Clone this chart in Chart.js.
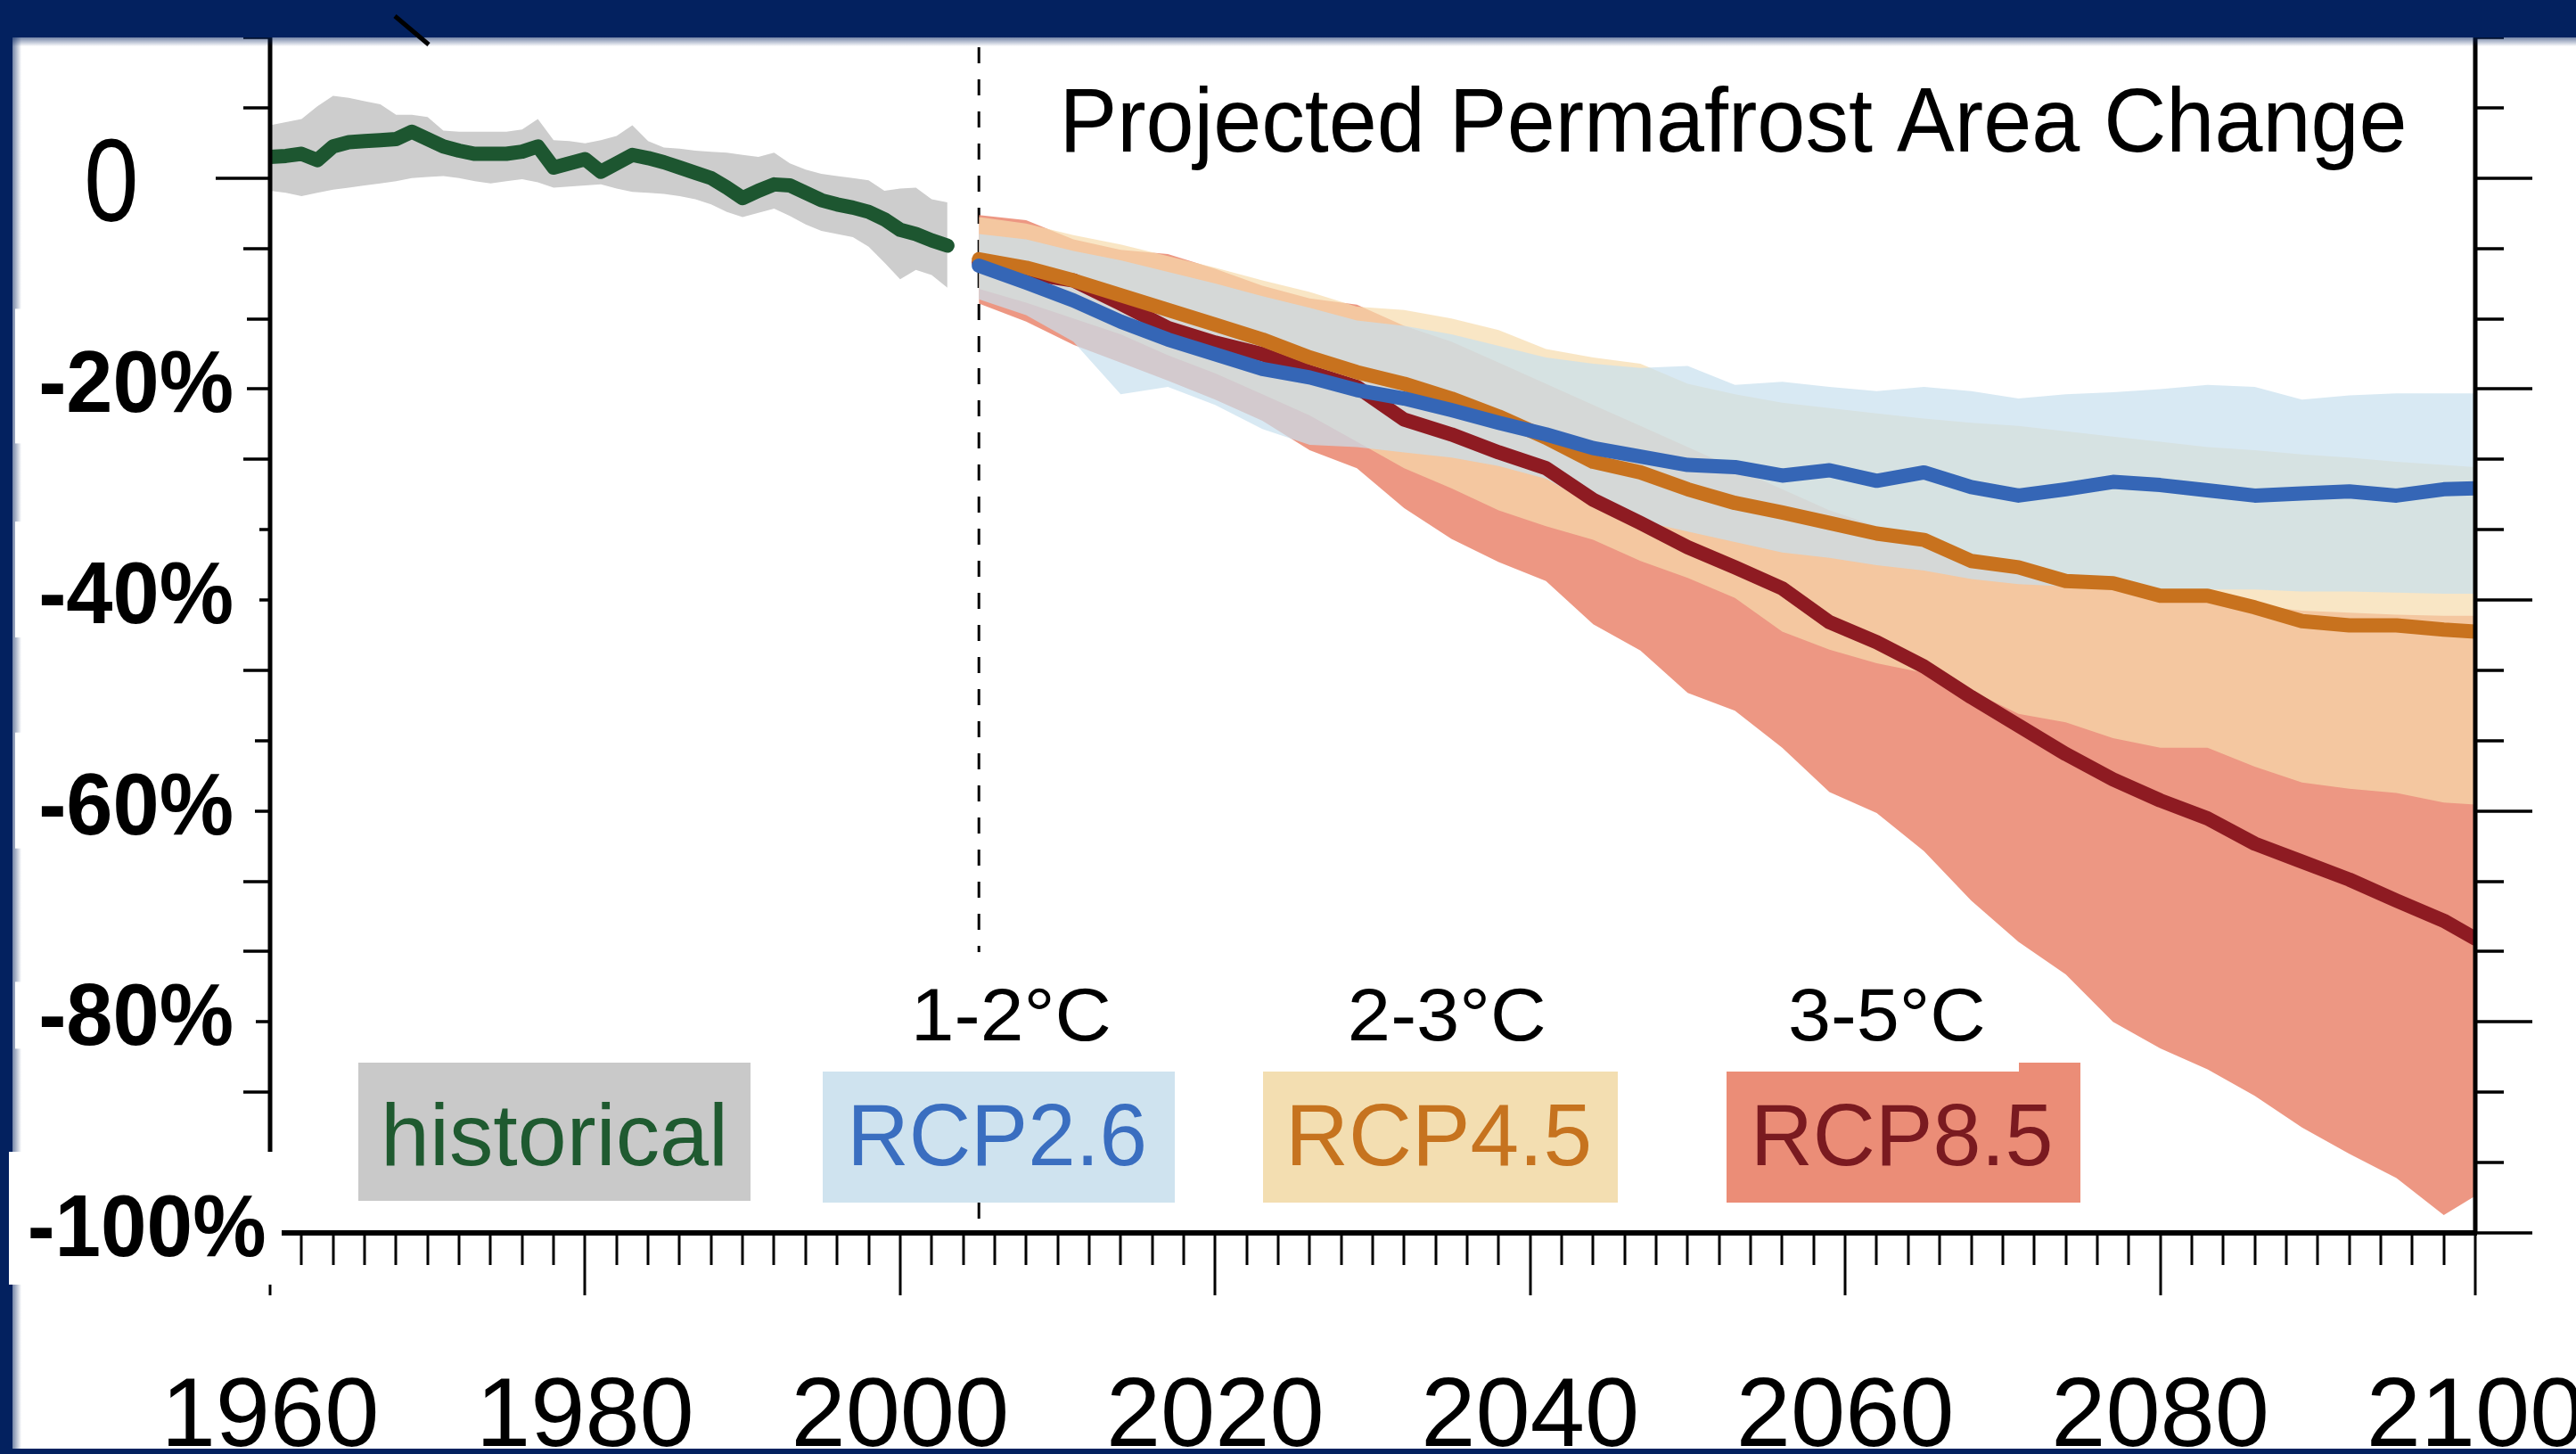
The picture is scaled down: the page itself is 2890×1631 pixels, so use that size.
<!DOCTYPE html>
<html>
<head>
<meta charset="utf-8">
<script src="https://cdn.jsdelivr.net/npm/chart.js@4.4.1/dist/chart.umd.min.js"></script>
<style>
html,body{margin:0;padding:0;background:#fff;overflow:hidden}
#wrap{width:2890px;height:1631px;position:relative}
</style>
</head>
<body>
<div id="wrap"><canvas id="c" width="2890" height="1631" style="width:2890px;height:1631px"></canvas></div>
<script>
// ---------------- DATA ----------------
const chartTitle = 'Projected Permafrost Area Change';
const histYears = [1960,1961,1962,1963,1964,1965,1966,1967,1968,1969,1970,1971,1972,1973,1974,1975,1976,1977,1978,1979,
  1980,1981,1982,1983,1984,1985,1986,1987,1988,1989,1990,1991,1992,1993,1994,1995,1996,1997,1998,1999,2000,2001,2002,2003];
const histMean  = [2.0,2.1,2.3,1.7,3.0,3.4,3.5,3.6,3.7,4.4, 3.7,3.0,2.6,2.3,2.3,2.3,2.5,3.0,1.0,1.4,
  1.8,0.6,1.4,2.2,1.9,1.5,1.0,0.5,0.0,-0.9, -1.9,-1.2,-0.6,-0.7,-1.4,-2.1,-2.5,-2.8,-3.2,-3.9, -4.9,-5.3,-5.9,-6.4];
const histUpper = [5.0,5.3,5.6,6.8,7.8,7.6,7.3,7.0,6.0,6.0, 5.8,4.5,4.4,4.4,4.4,4.4,4.6,5.6,3.6,3.5,
  3.3,3.6,4.0,5.0,3.5,2.9,2.8,2.6,2.5,2.4, 2.2,2.0,2.4,1.4,0.8,0.4,0.2,0.0,-0.2,-1.2, -1.0,-0.9,-2.0,-2.3];
const histLower = [-1.2,-1.4,-1.7,-1.4,-1.1,-0.9,-0.7,-0.5,-0.3,0.0, 0.1,0.2,0.0,-0.3,-0.5,-0.3,-0.1,-0.4,-0.9,-0.8,
  -0.7,-0.6,-1.0,-1.3,-1.4,-1.5,-1.7,-2.0,-2.5,-3.2, -3.7,-3.3,-2.9,-3.6,-4.4,-5.0,-5.3,-5.6,-6.5,-8.0, -9.6,-8.7,-9.2,-10.4];

const projYears = [2005,2008,2011,2014,2017,2020,2023,2026,2029,2032,2035,2038,2041,2044,2047,2050,2053,2056,2059,2062,
  2065,2068,2071,2074,2077,2080,2083,2086,2089,2092,2095,2098,2100];

const rcp26Mean  = [-8.3,-9.9,-11.6,-13.6,-15.3,-16.7,-18.1,-18.9,-20.1,-20.9,-22.0,-23.2,-24.3,-25.6,-26.4,-27.2,-27.4,-28.2,-27.7,-28.7,
  -27.9,-29.3,-30.1,-29.5,-28.8,-29.1,-29.6,-30.1,-29.9,-29.7,-30.1,-29.5,-29.4];
const rcp26Upper = [-5.3,-5.8,-6.9,-7.8,-8.9,-10.0,-11.2,-12.3,-13.5,-14.0,-14.8,-15.9,-17.0,-17.6,-18.0,-17.8,-19.6,-19.3,-19.8,-20.2,
  -19.8,-20.2,-20.9,-20.5,-20.3,-20.0,-19.6,-19.8,-21.0,-20.6,-20.4,-20.4,-20.4];
const rcp26Lower = [-11.5,-13.0,-15.5,-20.5,-19.8,-21.5,-23.8,-25.3,-25.5,-26.0,-26.5,-27.3,-28.5,-31.0,-32.5,-33.5,-34.5,-35.5,-36.0,-36.7,
  -37.2,-38.0,-38.5,-38.7,-38.8,-39.0,-39.0,-39.0,-39.2,-39.2,-39.3,-39.4,-39.4];

const rcp45Mean  = [-7.7,-8.5,-9.7,-11.1,-12.5,-13.9,-15.3,-17.0,-18.4,-19.5,-20.9,-22.6,-24.6,-26.9,-27.9,-29.5,-30.8,-31.7,-32.7,-33.7,
  -34.3,-36.3,-36.9,-38.2,-38.4,-39.6,-39.6,-40.7,-42.0,-42.4,-42.4,-42.8,-43.0];
const rcp45Upper = [-3.7,-4.3,-5.4,-6.3,-7.4,-8.5,-9.7,-10.8,-12.2,-12.5,-13.3,-14.4,-16.2,-17.0,-17.6,-19.5,-20.5,-21.3,-21.8,-22.3,
  -22.8,-23.2,-23.5,-24.0,-24.5,-25.0,-25.5,-25.8,-26.2,-26.5,-26.9,-27.2,-27.4];
const rcp45Lower = [-10.5,-11.8,-13.3,-14.8,-16.8,-18.5,-20.5,-22.5,-25.0,-27.5,-29.4,-31.5,-33.0,-34.3,-36.3,-37.9,-39.8,-43.0,-44.7,-46.0,
  -46.9,-48.6,-50.8,-51.6,-53.1,-54.0,-54.0,-55.8,-57.3,-57.9,-58.3,-59.2,-59.4];

const rcp85Mean  = [-8.0,-9.0,-9.7,-11.9,-14.2,-15.6,-16.7,-18.4,-19.8,-22.9,-24.3,-26.0,-27.5,-30.5,-32.7,-35.0,-36.9,-38.9,-42.1,-44.0,
  -46.3,-49.2,-51.9,-54.6,-57.0,-59.0,-60.7,-63.1,-64.8,-66.5,-68.5,-70.4,-72.1];
const rcp85Upper = [-3.5,-4.0,-5.8,-6.8,-7.2,-8.6,-10.2,-11.4,-12.0,-14.0,-15.5,-17.5,-19.5,-21.5,-23.5,-25.5,-27.5,-29.5,-31.5,-33.0,
  -34.5,-36.0,-37.0,-38.0,-39.0,-39.5,-40.0,-40.5,-41.0,-41.2,-41.4,-41.5,-41.5];
const rcp85Lower = [-11.9,-13.6,-15.8,-17.5,-19.2,-21.0,-23.0,-25.8,-27.5,-31.3,-34.2,-36.4,-38.2,-42.3,-44.8,-48.8,-50.5,-54.0,-58.2,-60.2,
  -63.8,-68.5,-72.4,-75.5,-80.0,-82.5,-84.5,-87.0,-90.0,-92.5,-94.8,-98.3,-96.5];

const dividerYear = 2005;
const yLabelValues = [0, -20, -40, -60, -80, -100];
const yLabelTexts  = ['0', '-20%', '-40%', '-60%', '-80%', '-100%'];
const legendLabels = ['historical', 'RCP2.6', 'RCP4.5', 'RCP8.5'];
const warmingLabels = ['1-2°C', '2-3°C', '3-5°C'];

// ---------------- STYLE ----------------
const COL = {
  histLine: '#1d5630', histBand: '#cdcdcd',
  r26Line: '#3566b6', r26Band: 'rgba(200,224,238,0.70)',
  r45Line: '#c8721e', r45Band: 'rgba(247,219,172,0.70)',
  r85Line: '#8e1b22', r85Band: 'rgba(234,137,114,0.88)',
  frame: '#03215f'
};

const pts = (xs, ys) => xs.map((x, i) => ({x: x, y: ys[i]}));

function bandSets(name, years, upper, lower, color, order) {
  return [
    {label: name + ' upper', data: pts(years, upper), borderWidth: 0, borderColor: 'transparent',
     pointRadius: 0, backgroundColor: color, fill: '+1', order: order},
    {label: name + ' lower', data: pts(years, lower), borderWidth: 0, borderColor: 'transparent',
     pointRadius: 0, fill: false, order: order}
  ];
}
function lineSet(name, years, vals, color, order) {
  return {label: name, data: pts(years, vals), borderColor: color, borderWidth: 16, pointRadius: 0,
    fill: false, borderCapStyle: 'round', borderJoinStyle: 'round', order: order};
}

const datasets = [
  ...bandSets('historical', histYears, histUpper, histLower, COL.histBand, 7),
  ...bandSets('RCP8.5', projYears, rcp85Upper, rcp85Lower, COL.r85Band, 6),
  ...bandSets('RCP4.5', projYears, rcp45Upper, rcp45Lower, COL.r45Band, 5),
  ...bandSets('RCP2.6', projYears, rcp26Upper, rcp26Lower, COL.r26Band, 4),
  lineSet('RCP8.5 mean', projYears, rcp85Mean, COL.r85Line, 3),
  lineSet('RCP4.5 mean', projYears, rcp45Mean, COL.r45Line, 2),
  lineSet('RCP2.6 mean', projYears, rcp26Mean, COL.r26Line, 1),
  lineSet('historical mean', histYears, histMean, COL.histLine, 1)
];

// text helper: fit ink width, centre or left align
function drawText(ctx, text, x, baseline, font, color, opts) {
  opts = opts || {};
  ctx.save();
  ctx.font = font; ctx.fillStyle = color;
  ctx.textAlign = 'left'; ctx.textBaseline = 'alphabetic';
  const m = ctx.measureText(text);
  const ink = m.actualBoundingBoxLeft + m.actualBoundingBoxRight;
  const s = opts.width ? opts.width / ink : (opts.sx || 1);
  const w = ink * s;
  const left = opts.align === 'left' ? x : x - w / 2;
  ctx.translate(left + m.actualBoundingBoxLeft * s, baseline);
  ctx.scale(s, 1);
  ctx.fillText(text, 0, 0);
  ctx.restore();
}

const decor = {
  id: 'decor',
  beforeDraw(chart) {
    const ctx = chart.ctx;
    ctx.save(); ctx.fillStyle = '#fff'; ctx.fillRect(0, 0, chart.width, chart.height); ctx.restore();
  },
  beforeDatasetsDraw(chart) {
    const {ctx, chartArea: ca, scales: {x}} = chart;
    const px = x.getPixelForValue(dividerYear);
    ctx.save();
    ctx.strokeStyle = '#000'; ctx.lineWidth = 3; ctx.setLineDash([18, 18]);
    ctx.beginPath(); ctx.moveTo(px, ca.top + 11); ctx.lineTo(px, ca.bottom); ctx.stroke();
    ctx.restore();
  },
  afterDraw(chart) {
    const {ctx, chartArea: ca, scales: {x, y}} = chart;
    const W = chart.width, H = chart.height;
    ctx.save();
    // ticks on y (left & right), every 20/3 %
    ctx.strokeStyle = '#000'; ctx.lineCap = 'butt';
    ctx.lineWidth = 3.5;
    for (let k = 0; k <= 17; k++) {
      const v = 40 / 3 - k * 20 / 3;
      const py = Math.round(y.getPixelForValue(v));
      const major = (k % 3 === 2);
      ctx.beginPath();
      ctx.moveTo(ca.left, py); ctx.lineTo(ca.left - (major ? 61 : 30), py);
      ctx.moveTo(ca.right, py); ctx.lineTo(ca.right + (major ? 64 : 32), py);
      ctx.stroke();
    }
    // ticks on x, every 2 years, long every 20
    ctx.lineWidth = 3;
    for (let yr = 1960; yr <= 2100; yr += 2) {
      const px = Math.round(x.getPixelForValue(yr));
      const major = (yr % 20 === 0);
      ctx.beginPath(); ctx.moveTo(px, ca.bottom); ctx.lineTo(px, ca.bottom + (major ? 70 : 36)); ctx.stroke();
    }
    // axis lines
    ctx.lineWidth = 5;
    ctx.beginPath();
    ctx.moveTo(ca.left, ca.top); ctx.lineTo(ca.left, ca.bottom);
    ctx.moveTo(ca.right, ca.top); ctx.lineTo(ca.right, ca.bottom);
    ctx.stroke();
    ctx.lineWidth = 6;
    ctx.beginPath(); ctx.moveTo(ca.left, ca.bottom); ctx.lineTo(ca.right + 2, ca.bottom); ctx.stroke();

    // title
    drawText(ctx, chartTitle, 1196, 170, '102px "Liberation Sans", Arial, sans-serif', '#000', {align: 'left', width: 1501});

    // legend boxes
    const boxes = [
      {x0: 402, x1: 842, y0: 1192, y1: 1347, fill: '#c9c9c9', text: '#1f5a30', w: 378},
      {x0: 923, x1: 1318, y0: 1202, y1: 1349, fill: '#cfe3ef', text: '#3a6ec0', w: 325},
      {x0: 1417, x1: 1815, y0: 1202, y1: 1349, fill: '#f3deb1', text: '#c6731f', w: 332},
      {x0: 1937, x1: 2334, y0: 1202, y1: 1349, fill: '#eb8d77', text: '#7a1a20', w: 328}
    ];
    // white backdrop behind the first warming label (hides dashed line)
    ctx.fillStyle = '#fff';
    ctx.fillRect(1005, 1068, 263, 133);
    boxes.forEach((b, i) => {
      ctx.fillStyle = b.fill;
      ctx.fillRect(b.x0, b.y0, b.x1 - b.x0, b.y1 - b.y0);
      if (i === 3) ctx.fillRect(2265, 1192, b.x1 - 2265, 12);
      drawText(ctx, legendLabels[i], (b.x0 + b.x1) / 2, 1307, '99px "Liberation Sans", Arial, sans-serif', b.text, {width: b.w});
    });
    // warming labels
    const wx = [1136, 1624, 2117];
    warmingLabels.forEach((t, i) => {
      drawText(ctx, t, wx[i], 1167, '84px "Liberation Sans", Arial, sans-serif', '#000', {width: 216});
    });

    // frame of the slide
    ctx.fillStyle = COL.frame;
    ctx.fillRect(0, 0, W, 42);
    let g = ctx.createLinearGradient(0, 42, 0, 52);
    g.addColorStop(0, 'rgba(3,33,95,0.55)'); g.addColorStop(1, 'rgba(3,33,95,0)');
    ctx.fillStyle = g; ctx.fillRect(0, 42, W, 10);
    ctx.fillStyle = COL.frame;
    ctx.fillRect(0, 0, 14, H);
    g = ctx.createLinearGradient(14, 0, 24, 0);
    g.addColorStop(0, 'rgba(3,33,95,0.55)'); g.addColorStop(1, 'rgba(3,33,95,0)');
    ctx.fillStyle = g; ctx.fillRect(14, 42, 10, H - 42);
    ctx.fillStyle = COL.frame;
    ctx.fillRect(0, H - 6, W, 6);
    // small stray stroke near top
    ctx.strokeStyle = '#000'; ctx.lineWidth = 5;
    ctx.beginPath(); ctx.moveTo(443, 18); ctx.lineTo(481, 50); ctx.stroke();

    // white label backdrops (they partly hide the left major ticks, as in the slide)
    ctx.fillStyle = '#fff';
    const p = (v) => y.getPixelForValue(v);
    ctx.fillRect(17, p(-20) - 90, 260, 151);          // -20%
    ctx.fillRect(17, p(-40) - 88, 274, 130);          // -40%
    ctx.fillRect(17, p(-60) - 88, 269, 130);          // -60%
    ctx.fillRect(17, p(-80) - 45, 270, 75);           // -80%
    ctx.fillRect(10, p(-100) - 91, 306, 149);         // -100%

    // y labels
    yLabelValues.forEach((v, i) => {
      const py = y.getPixelForValue(v);
      if (v === 0) {
        drawText(ctx, yLabelTexts[i], 125, py + 48, '131px "Liberation Sans", Arial, sans-serif', '#000', {width: 53});
      } else {
        const w = yLabelTexts[i].length > 4 ? 263 : 214;
        const cx = yLabelTexts[i].length > 4 ? 165 : 153;
        drawText(ctx, yLabelTexts[i], cx, py + 26, 'bold 98px "Liberation Sans", Arial, sans-serif', '#000', {width: w});
      }
    });
    ctx.restore();
  }
};

new Chart(document.getElementById('c'), {
  type: 'line',
  data: {datasets: datasets},
  options: {
    responsive: false, animation: false, devicePixelRatio: 1, events: [],
    layout: {padding: {top: 42, left: 0, right: 0, bottom: 0}},
    plugins: {legend: {display: false}, title: {display: false}, tooltip: {enabled: false}},
    elements: {line: {tension: 0}},
    scales: {
      x: {
        type: 'linear', position: 'bottom', min: 1960, max: 2100,
        grid: {display: false, drawTicks: false}, border: {display: false},
        ticks: {stepSize: 20, autoSkip: false, maxRotation: 0, padding: 143, color: '#000',
          font: {family: '"Liberation Sans", Arial, sans-serif', size: 110},
          callback: (v) => String(v)},
        afterFit: (s) => { s.height = 248; s.paddingLeft = 0; s.paddingRight = 0; }
      },
      y: {
        type: 'linear', position: 'left', min: -100, max: 40 / 3,
        grid: {display: false, drawTicks: false}, border: {display: false},
        ticks: {display: false},
        afterFit: (s) => { s.width = 303; }
      },
      y2: {
        type: 'linear', position: 'right', min: -100, max: 40 / 3,
        grid: {display: false, drawTicks: false}, border: {display: false},
        ticks: {display: false},
        afterFit: (s) => { s.width = 113; }
      }
    }
  },
  plugins: [decor]
});
</script>
</body>
</html>
